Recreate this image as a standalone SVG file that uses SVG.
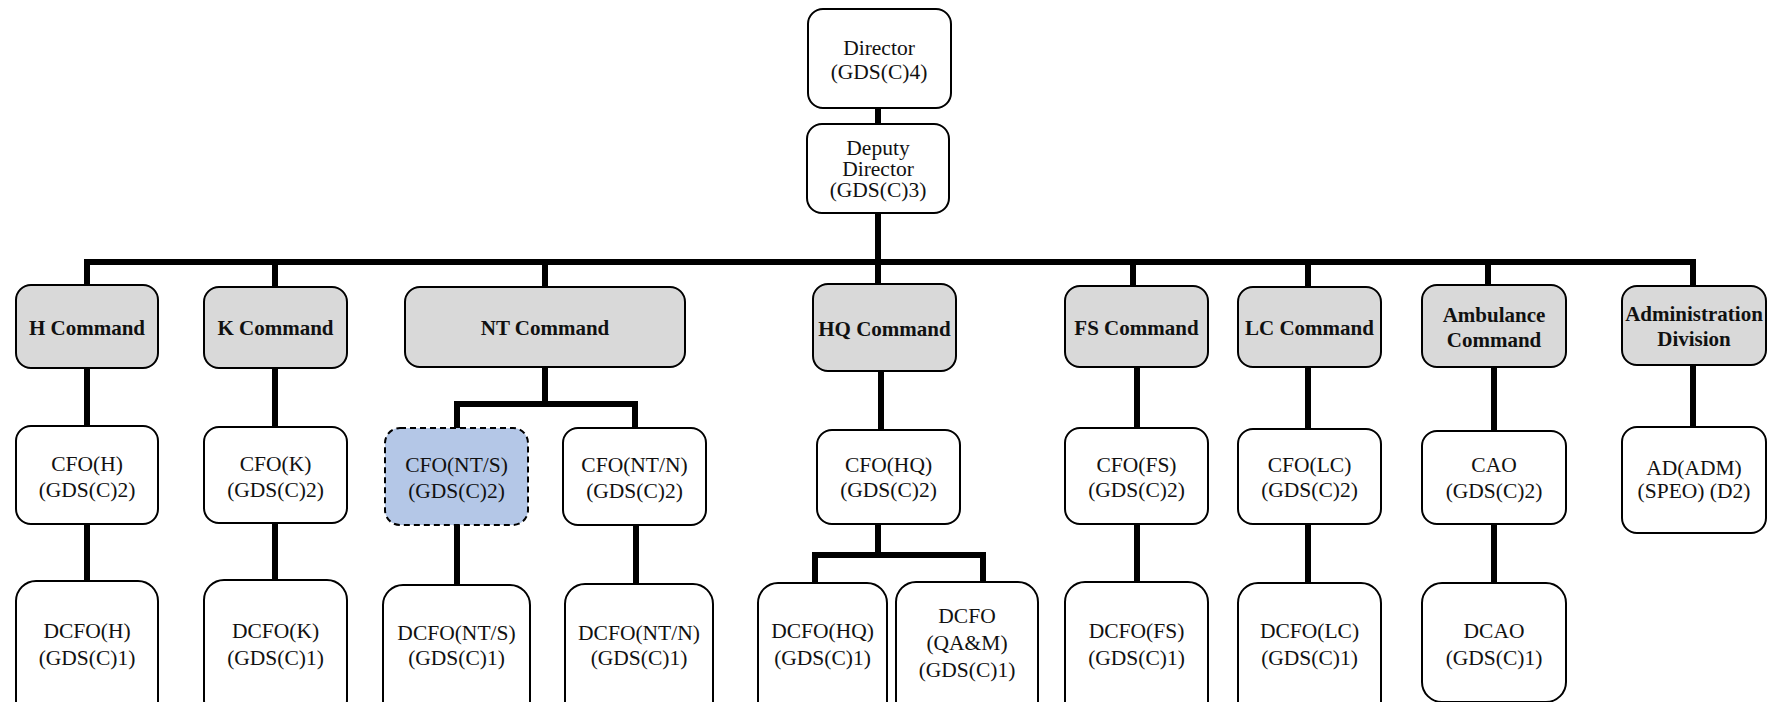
<svg xmlns="http://www.w3.org/2000/svg" width="1769" height="702" viewBox="0 0 1769 702">
<style>
.b{fill:#fff;stroke:#000;stroke-width:2}
.g{fill:#d9d9d9;stroke:#000;stroke-width:2}
.s{fill:#b4c7e7;stroke:#000;stroke-width:2;stroke-dasharray:6 4}
text{font-family:"Liberation Serif","Times New Roman",serif;font-size:21.5px;text-anchor:middle;fill:#111}
.t{font-weight:bold;font-size:21px}
.c{fill:none;stroke:#000;stroke-width:6}
</style>
<rect width="1769" height="702" fill="#fff"/>
<g id="connectors">
<path class="c" d="M878 108V124M878 213V284"/>
<path class="c" d="M84 262H1696"/>
<path class="c" d="M87 259V285M275 259V287M545 259V287M1133 259V286M1308 259V287M1488 259V285M1693 259V286"/>
<path class="c" d="M87 368V426M87 524V581M275 368V427M275 523V580"/>
<path class="c" d="M545 367V404M457 404H635M457 401V428M635 401V428M457 525V585M636 525V584"/>
<path class="c" d="M881 371V430M878 524V555M815 555H983M815 552V583M983 552V582"/>
<path class="c" d="M1137 367V428M1137 524V582M1308 367V429M1308 524V583M1494 367V431M1494 524V583M1693 365V427"/>
</g>
<g id="director"><rect class="b" x="808" y="9" width="143" height="99" rx="15"/><text x="879" y="55">Director</text><text x="879" y="79">(GDS(C)4)</text></g>
<g id="deputy"><rect class="b" x="807" y="124" width="142" height="89" rx="15"/><text x="878" y="155">Deputy</text><text x="878" y="176">Director</text><text x="878" y="197">(GDS(C)3)</text></g>
<g id="h-cmd"><rect class="g" x="16" y="285" width="142" height="83" rx="15"/><text class="t" x="87" y="335">H Command</text></g>
<g id="k-cmd"><rect class="g" x="204" y="287" width="143" height="81" rx="15"/><text class="t" x="275.5" y="335">K Command</text></g>
<g id="nt-cmd"><rect class="g" x="405" y="287" width="280" height="80" rx="15"/><text class="t" x="545" y="335">NT Command</text></g>
<g id="hq-cmd"><rect class="g" x="813" y="284" width="143" height="87" rx="15"/><text class="t" x="884.5" y="336">HQ Command</text></g>
<g id="fs-cmd"><rect class="g" x="1065" y="286" width="143" height="81" rx="15"/><text class="t" x="1136.5" y="335">FS Command</text></g>
<g id="lc-cmd"><rect class="g" x="1238" y="287" width="143" height="80" rx="15"/><text class="t" x="1309.5" y="335">LC Command</text></g>
<g id="amb-cmd"><rect class="g" x="1422" y="285" width="144" height="82" rx="15"/><text class="t" x="1494" y="322">Ambulance</text><text class="t" x="1494" y="347">Command</text></g>
<g id="adm-div"><rect class="g" x="1622" y="286" width="144" height="79" rx="15"/><text class="t" x="1694" y="321">Administration</text><text class="t" x="1694" y="346">Division</text></g>
<g id="cfo-h"><rect class="b" x="16" y="426" width="142" height="98" rx="15"/><text x="87" y="471">CFO(H)</text><text x="87" y="497">(GDS(C)2)</text></g>
<g id="cfo-k"><rect class="b" x="204" y="427" width="143" height="96" rx="15"/><text x="275.5" y="471">CFO(K)</text><text x="275.5" y="497">(GDS(C)2)</text></g>
<g id="cfo-nts"><rect class="s" x="385" y="428" width="143" height="97" rx="15"/><text x="456.5" y="472">CFO(NT/S)</text><text x="456.5" y="498">(GDS(C)2)</text></g>
<g id="cfo-ntn"><rect class="b" x="563" y="428" width="143" height="97" rx="15"/><text x="634.5" y="472">CFO(NT/N)</text><text x="634.5" y="498">(GDS(C)2)</text></g>
<g id="cfo-hq"><rect class="b" x="817" y="430" width="143" height="94" rx="15"/><text x="888.5" y="472">CFO(HQ)</text><text x="888.5" y="497">(GDS(C)2)</text></g>
<g id="cfo-fs"><rect class="b" x="1065" y="428" width="143" height="96" rx="15"/><text x="1136.5" y="472">CFO(FS)</text><text x="1136.5" y="497">(GDS(C)2)</text></g>
<g id="cfo-lc"><rect class="b" x="1238" y="429" width="143" height="95" rx="15"/><text x="1309.5" y="472">CFO(LC)</text><text x="1309.5" y="497">(GDS(C)2)</text></g>
<g id="cao"><rect class="b" x="1422" y="431" width="144" height="93" rx="15"/><text x="1494" y="472">CAO</text><text x="1494" y="498">(GDS(C)2)</text></g>
<g id="ad-adm"><rect class="b" x="1622" y="427" width="144" height="106" rx="15"/><text x="1694" y="475">AD(ADM)</text><text x="1694" y="498">(SPEO) (D2)</text></g>
<g id="dcfo-h"><rect class="b" x="16" y="581" width="142" height="140" rx="20"/><text x="87" y="638">DCFO(H)</text><text x="87" y="665">(GDS(C)1)</text></g>
<g id="dcfo-k"><rect class="b" x="204" y="580" width="143" height="140" rx="20"/><text x="275.5" y="638">DCFO(K)</text><text x="275.5" y="665">(GDS(C)1)</text></g>
<g id="dcfo-nts"><rect class="b" x="383" y="585" width="147" height="140" rx="20"/><text x="456.5" y="640">DCFO(NT/S)</text><text x="456.5" y="665">(GDS(C)1)</text></g>
<g id="dcfo-ntn"><rect class="b" x="565" y="584" width="148" height="140" rx="20"/><text x="639" y="640">DCFO(NT/N)</text><text x="639" y="665">(GDS(C)1)</text></g>
<g id="dcfo-hq"><rect class="b" x="758" y="583" width="129" height="140" rx="20"/><text x="822.5" y="638">DCFO(HQ)</text><text x="822.5" y="665">(GDS(C)1)</text></g>
<g id="dcfo-qam"><rect class="b" x="896" y="582" width="142" height="140" rx="20"/><text x="967" y="623">DCFO</text><text x="967" y="650">(QA&amp;M)</text><text x="967" y="677">(GDS(C)1)</text></g>
<g id="dcfo-fs"><rect class="b" x="1065" y="582" width="143" height="140" rx="20"/><text x="1136.5" y="638">DCFO(FS)</text><text x="1136.5" y="665">(GDS(C)1)</text></g>
<g id="dcfo-lc"><rect class="b" x="1238" y="583" width="143" height="140" rx="20"/><text x="1309.5" y="638">DCFO(LC)</text><text x="1309.5" y="665">(GDS(C)1)</text></g>
<g id="dcao"><rect class="b" x="1422" y="583" width="144" height="119" rx="20"/><text x="1494" y="638">DCAO</text><text x="1494" y="665">(GDS(C)1)</text></g>
</svg>
